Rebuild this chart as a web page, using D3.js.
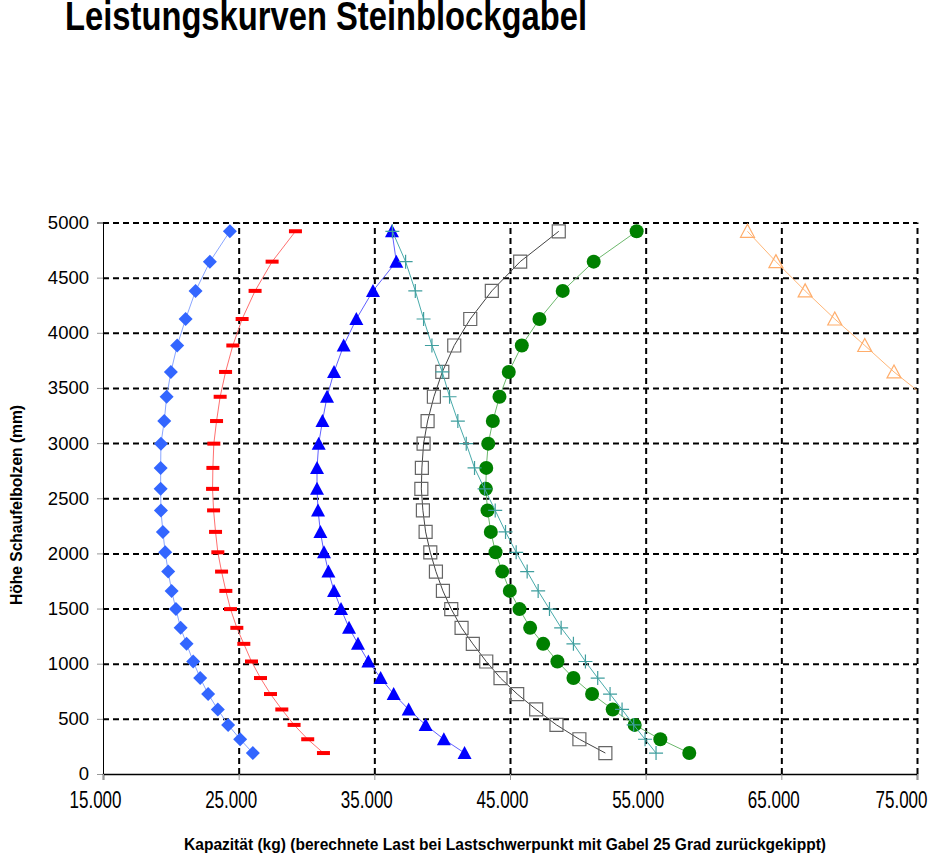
<!DOCTYPE html>
<html>
<head>
<meta charset="utf-8">
<script src="https://cdn.jsdelivr.net/npm/d3@7"></script>
<style>
  body { margin: 0; background: #fff; }
  text { font-family: "Liberation Sans", Arial, sans-serif; }
  .grid line { stroke: #000; stroke-width: 2; stroke-dasharray: 6,4; }
  .grid path { display: none; }
</style>
</head>
<body>
<div id="chart"></div>
<script>
// Pin heights (mm), shared by all curves
var heights = [4920, 4645, 4380, 4125, 3885, 3645, 3420, 3200, 2995, 2775, 2585, 2390, 2195,
               2010, 1835, 1660, 1495, 1325, 1180, 1020, 870, 725, 585, 445, 315, 190];

// Capacity (kg) per curve, top to bottom
var kgDiamond = [24350, 22880, 21825, 21090, 20470, 20005, 19690, 19515, 19270, 19250, 19250, 19270, 19415,
                 19585, 19805, 20060, 20375, 20720, 21160, 21650, 22165, 22750, 23465, 24225, 25110, 26045];
var kgDash = [29185, 27465, 26210, 25255, 24570, 24035, 23635, 23370, 23170, 23100, 23075, 23150, 23295,
              23465, 23740, 24055, 24400, 24865, 25380, 25945, 26610, 27345, 28180, 29085, 30090, 31250];
var kgTriangle = [36300, 36620, 34900, 33675, 32740, 32030, 31515, 31175, 30900, 30775, 30775, 30850, 31025,
                  31290, 31615, 32030, 32545, 33135, 33795, 34560, 35465, 36425, 37530, 38780, 40125, 41650];
var kgSquare = [48595, 45750, 43660, 42070, 40890, 40010, 39390, 38925, 38630, 38505, 38465, 38580, 38780,
                39125, 39540, 40055, 40670, 41430, 42260, 43250, 44300, 45530, 46930, 48425, 50115, 52030];
var kgCircle = [54335, 51170, 48885, 47170, 45870, 44910, 44225, 43735, 43395, 43250, 43220, 43345, 43585,
                43935, 44425, 44985, 45700, 46485, 47445, 48495, 49675, 51050, 52570, 54190, 56080, 58215];
var kgPlus = [36330, 37305, 38020, 38630, 39245, 40010, 40545, 41155, 41775, 42385, 43125, 43910, 44670,
              45455, 46265, 47075, 47910, 48770, 49675, 50560, 51465, 52375, 53260, 54115, 54955, 55765];
var kgOpenTriangle = [62505, 64600, 66755, 68940, 71150, 73305, 75600];

var xTicks = [15000, 25000, 35000, 45000, 55000, 65000, 75000];
var yTicks = [0, 500, 1000, 1500, 2000, 2500, 3000, 3500, 4000, 4500, 5000];

var title = "Leistungskurven Steinblockgabel";
var xTitle = "Kapazität (kg) (berechnete Last bei Lastschwerpunkt mit Gabel 25 Grad zurückgekippt)";
var yTitle = "Höhe Schaufelbolzen (mm)";

// Chart dimensions
var margin = {top: 222.5, right: 15, bottom: 80, left: 103},
    width = 917 - margin.left,
    height = 774 - margin.top;

var x = d3.scaleLinear().domain([15000, 75000]).range([0, width]);
var y = d3.scaleLinear().domain([0, 5000]).range([height, 0]);

var de = d3.formatLocale({decimal: ",", thousands: ".", grouping: [3], currency: ["", " €"]});

var svgRoot = d3.select("#chart")
  .append("svg")
  .attr("width", 932)
  .attr("height", 854);

var svg = svgRoot.append("g")
  .attr("transform", "translate(" + margin.left + "," + margin.top + ")");

svg.append("clipPath").attr("id", "plot")
  .append("rect").attr("width", width).attr("height", height);

// Gridlines
svg.append("g")
    .attr("class", "grid")
    .call(d3.axisLeft(y).tickValues(yTicks.slice(1)).tickSize(-width).tickFormat(""));

svg.append("g")
    .attr("class", "grid")
    .attr("transform", "translate(0," + height + ")")
    .call(d3.axisBottom(x).tickValues(xTicks.slice(1)).tickSize(-height).tickFormat(""));

// Axes
var yAxis = svg.append("g")
    .call(d3.axisLeft(y).tickValues(yTicks).tickSize(6).tickPadding(8).tickFormat(d3.format("d")));
yAxis.select(".domain").attr("stroke", "#000").attr("stroke-width", 1);
yAxis.selectAll(".tick line").attr("stroke", "#999");
yAxis.selectAll("text")
    .attr("font-family", null)
    .attr("font-size", 18.5)
    .attr("fill", "#000");

var xAxis = svg.append("g")
    .attr("transform", "translate(0," + height + ")")
    .call(d3.axisBottom(x).tickValues(xTicks).tickSize(6).tickPadding(12).tickFormat(de.format(",d")));
xAxis.select(".domain").attr("stroke", "#000").attr("stroke-width", 1.5);
xAxis.selectAll(".tick line").attr("stroke", "#999");
// narrow labels, sitting a bit left of their ticks like the original; keep the last one on the page
xAxis.selectAll("text")
    .attr("font-family", null)
    .attr("font-size", 23)
    .attr("fill", "#000")
    .attr("textLength", 52)
    .attr("lengthAdjust", "spacingAndGlyphs")
    .attr("dx", function(d) { return Math.min(-8, (927 - margin.left - 26) - x(d)); });

// Curves
var series = [
  {kg: kgDiamond, line: "#8aa6ff", marker: "diamond", fill: "#3366ff", stroke: "none"},
  {kg: kgDash, line: "#ff7070", marker: "dash", fill: "#ff0000", stroke: "none"},
  {kg: kgTriangle, line: "#6060ff", marker: "triangle", fill: "#0000ff", stroke: "none"},
  {kg: kgSquare, line: "#444", marker: "square", fill: "none", stroke: "#666"},
  {kg: kgCircle, line: "#6cb86c", marker: "circle", fill: "#008000", stroke: "none"},
  {kg: kgPlus, line: "#4aabab", marker: "plus", fill: "none", stroke: "#3f9e9e"},
  {kg: kgOpenTriangle, line: "#ffb677", marker: "triangle", fill: "none", stroke: "#ffad6b"}
];

var markerPath = {
  diamond: "M0,-7L7,0L0,7L-7,0Z",
  dash: "M-6.5,-2L6.5,-2L6.5,2L-6.5,2Z",
  triangle: "M0,-7L7,6L-7,6Z",
  square: "M-6.5,-6.5L6.5,-6.5L6.5,6.5L-6.5,6.5Z",
  circle: "M7,0A7,7 0 1,1 -7,0A7,7 0 1,1 7,0Z",
  plus: "M-7,0L7,0M0,-7L0,7"
};

var plot = svg.append("g").attr("clip-path", "url(#plot)");

series.forEach(function(s) {
  var pts = s.kg.map(function(v, i) { return [v, heights[i]]; });

  plot.append("path")
      .datum(pts)
      .attr("fill", "none")
      .attr("stroke", s.line)
      .attr("stroke-width", 1)
      .attr("d", d3.line()
        .x(function(d) { return x(d[0]); })
        .y(function(d) { return y(d[1]); }));

  plot.selectAll(null)
      .data(pts)
      .enter().append("path")
      .attr("transform", function(d) { return "translate(" + x(d[0]) + "," + y(d[1]) + ")"; })
      .attr("d", markerPath[s.marker])
      .attr("fill", s.fill)
      .attr("stroke", s.stroke)
      .attr("stroke-width", 1.2);
});

// Titles
svgRoot.append("text")
    .attr("x", 65)
    .attr("y", 30)
    .attr("font-size", 40)
    .attr("font-weight", "bold")
    .attr("textLength", 522)
    .attr("lengthAdjust", "spacingAndGlyphs")
    .text(title);

svgRoot.append("text")
    .attr("x", 505)
    .attr("y", 850)
    .attr("text-anchor", "middle")
    .attr("font-size", 16)
    .attr("font-weight", "bold")
    .attr("textLength", 642)
    .attr("lengthAdjust", "spacingAndGlyphs")
    .text(xTitle);

svgRoot.append("text")
    .attr("transform", "translate(22,505) rotate(-90)")
    .attr("text-anchor", "middle")
    .attr("font-size", 16)
    .attr("font-weight", "bold")
    .attr("textLength", 200)
    .attr("lengthAdjust", "spacingAndGlyphs")
    .text(yTitle);
</script>
</body>
</html>
